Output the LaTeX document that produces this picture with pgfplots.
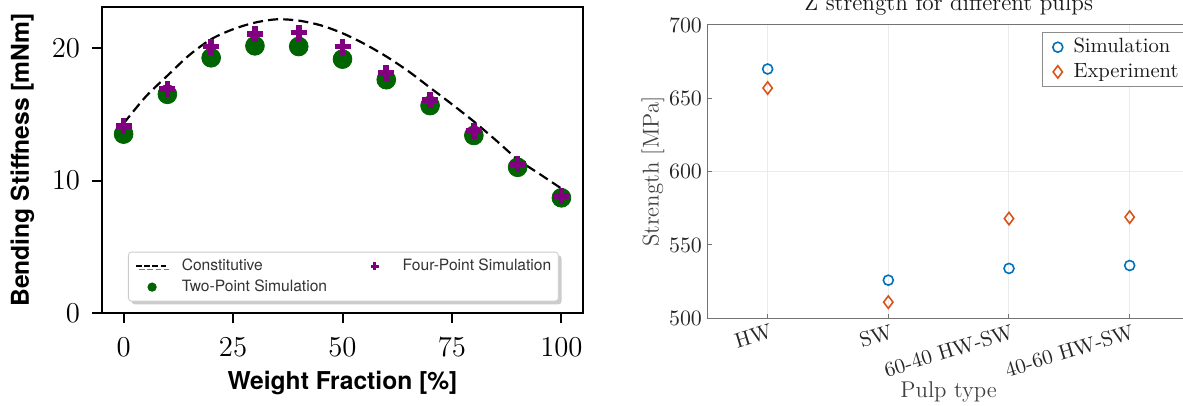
\documentclass[border=0pt]{standalone}
\usepackage{fontspec}
\newfontfamily\helv{TeX Gyre Heros}
\usepackage{pgfplots}
\pgfplotsset{compat=1.18}
\usetikzlibrary{shadows}
\definecolor{dgreen}{HTML}{006400}
\definecolor{mpurple}{HTML}{800080}
\definecolor{mblue}{rgb}{0,0.447,0.741}
\definecolor{morange}{rgb}{0.85,0.325,0.098}
\pgfplotsset{dashlegend/.style={legend image code/.code={\draw[##1] (0pt,0pt) -- (16pt,0pt);}}}

\begin{document}
\begin{tikzpicture}
% left: bending stiffness
\begin{axis}[
  at={(50.85pt,46.35pt)}, anchor=south west,
  scale only axis, width=240.8pt, height=153.3pt,
  xmin=-5, xmax=105, ymin=0, ymax=23.1,
  xtick={0,25,50,75,100}, ytick={0,10,20},
  xtick pos=left, ytick pos=left,
  tick align=outside, major tick length=5pt,
  axis line style={black, line width=1pt},
  tick style={black, line width=1pt},
  ticklabel style={font=\fontsize{15.5}{18}\selectfont, inner sep=0pt},
  xticklabel style={anchor=base, yshift=-16.8pt},
  yticklabel style={anchor=east, xshift=-5.6pt},
  xlabel={Weight Fraction [\%]},
  ylabel={Bending Stiffness [mNm]},
  label style={font=\helv\bfseries\fontsize{12.3}{14}\selectfont},
  xlabel style={at={(axis description cs:0.5,0)}, anchor=base, yshift=-38.35pt},
  ylabel style={at={(axis description cs:-0.1645,0.5)}, anchor=center},
  legend columns=2,
  legend cell align=left,
  legend image code/.code={%
    \pgfpathmoveto{\pgfqpoint{0pt}{0pt}}\pgfpathlineto{\pgfqpoint{16pt}{0pt}}\pgfusepath{discard}%
    \draw[#1] plot coordinates {(8pt,0pt)};},
  legend style={at={(0.0546,0.2009)}, anchor=north west,
    font=\helv\fontsize{7.8}{9}\selectfont, text=black!80,
    draw=black!20, fill=white, rounded corners=1.5pt,
    drop shadow={shadow xshift=1.6pt, shadow yshift=-1.6pt, fill=black!40},
    inner xsep=3.5pt, inner ysep=3.3pt, row sep=3.1pt,
    nodes={inner sep=0pt, text height=5.8pt, text depth=1.6pt},
    /tikz/column 1/.style={column sep=6.5pt},
    /tikz/column 2/.style={column sep=15.8pt},
    /tikz/column 3/.style={column sep=6pt}},
]
\addplot[black, line width=1.1pt, dash pattern=on 5pt off 2.6pt, smooth, forget plot] coordinates {
  (0,14.3) (5,16.3) (10,17.9) (15,19.45) (20,20.65) (25,21.4) (30,21.9) (35,22.15)
  (40,22.05) (45,21.7) (50,21.1) (55,20.3) (60,19.35) (65,18.25) (70,17.0)
  (75,15.75) (80,14.45) (85,13.05) (90,11.6) (95,10.5) (100,9.4)};
\addplot[only marks, mark=*, mark size=4.7pt, dgreen, forget plot] coordinates {
  (0,13.5) (10,16.5) (20,19.25) (30,20.15) (40,20.1) (50,19.15)
  (60,17.6) (70,15.65) (80,13.4) (90,11.0) (100,8.7)};
\addplot[only marks, mark=+, mark size=4pt, mpurple, mark options={line width=2.8pt}, forget plot] coordinates {
  (0,14.1) (10,16.9) (20,20.1) (30,21.05) (40,21.15) (50,20.1)
  (60,18.1) (70,16.05) (80,13.75) (90,11.25) (100,8.85)};
\addlegendimage{dashlegend, black, line width=0.7pt, dash pattern=on 2.8pt off 1.3pt}
\addlegendentry{Constitutive}
\addlegendimage{only marks, mark=+, mark size=2pt, mpurple, mark options={line width=1.4pt}}
\addlegendentry{Four-Point Simulation}
\addlegendimage{only marks, mark=*, mark size=2.1pt, dgreen}
\addlegendentry{Two-Point Simulation}
\end{axis}

% right: Z strength
\begin{axis}[
  at={(353.65pt,43.85pt)}, anchor=south west,
  scale only axis, width=241.35pt, height=146.65pt,
  xmin=0.5, xmax=4.5, ymin=500, ymax=700,
  xtick={1,2,3,4},
  xticklabels={HW,SW,60-40 HW-SW,40-60 HW-SW},
  ytick={500,550,600,650,700},
  xtick pos=left, ytick pos=left,
  tick align=inside, major tick length=2.2pt,
  axis line style={black!55, line width=0.5pt},
  tick style={black!55, line width=0.5pt},
  xmajorgrids,
  grid style={black!8, line width=0.5pt},
  extra y ticks={600}, extra y tick labels={},
  extra y tick style={grid=major},
  ticklabel style={font=\fontsize{10.5}{12}\selectfont, inner sep=0pt, text=black!85},
  xticklabel style={rotate=17, anchor=north east, yshift=-2.7pt},
  yticklabel style={anchor=east, xshift=-2.5pt},
  xlabel={Pulp type},
  ylabel={Strength [MPa]},
  label style={font=\fontsize{11.4}{13}\selectfont, text=black!75},
  xlabel style={at={(axis description cs:0.5,0)}, anchor=base, yshift=-39.85pt},
  ylabel style={at={(axis description cs:-0.1125,0.5)}, anchor=center},
  title={Z strength for different pulps},
  title style={at={(axis description cs:0.5,1)}, anchor=base, yshift=1pt,
    font=\fontsize{11.6}{13}\selectfont, text=black!90},
  legend cell align=left,
  legend image code/.code={\path[draw=none,fill=none] (-4pt,0pt) -- (4pt,0pt);
    \draw[#1] plot coordinates {(0pt,0pt)};},
  legend style={at={(0.6928,0.975)}, anchor=north west,
    font=\fontsize{10.3}{12}\selectfont, text=black!90,
    draw=black!45, fill=white, line width=0.5pt,
    inner xsep=3.8pt, inner ysep=2.6pt, row sep=3.15pt,
    nodes={inner sep=0pt, text height=7.2pt, text depth=2pt},
    /tikz/column 1/.style={column sep=3.85pt}},
]
\addplot[only marks, mark=o, mark size=2.5pt, mblue, mark options={line width=0.8pt}] coordinates {
  (1,670) (2,526) (3,534) (4,536)};
\addlegendentry{Simulation}
\addplot[only marks, mark=diamond, mark size=3.1pt, morange, mark options={line width=0.8pt}] coordinates {
  (1,657) (2,511) (3,568) (4,569)};
\addlegendentry{Experiment}
\end{axis}

\pgfresetboundingbox
\path (0pt,0pt) rectangle (591.5pt,203pt);
\end{tikzpicture}
\end{document}
